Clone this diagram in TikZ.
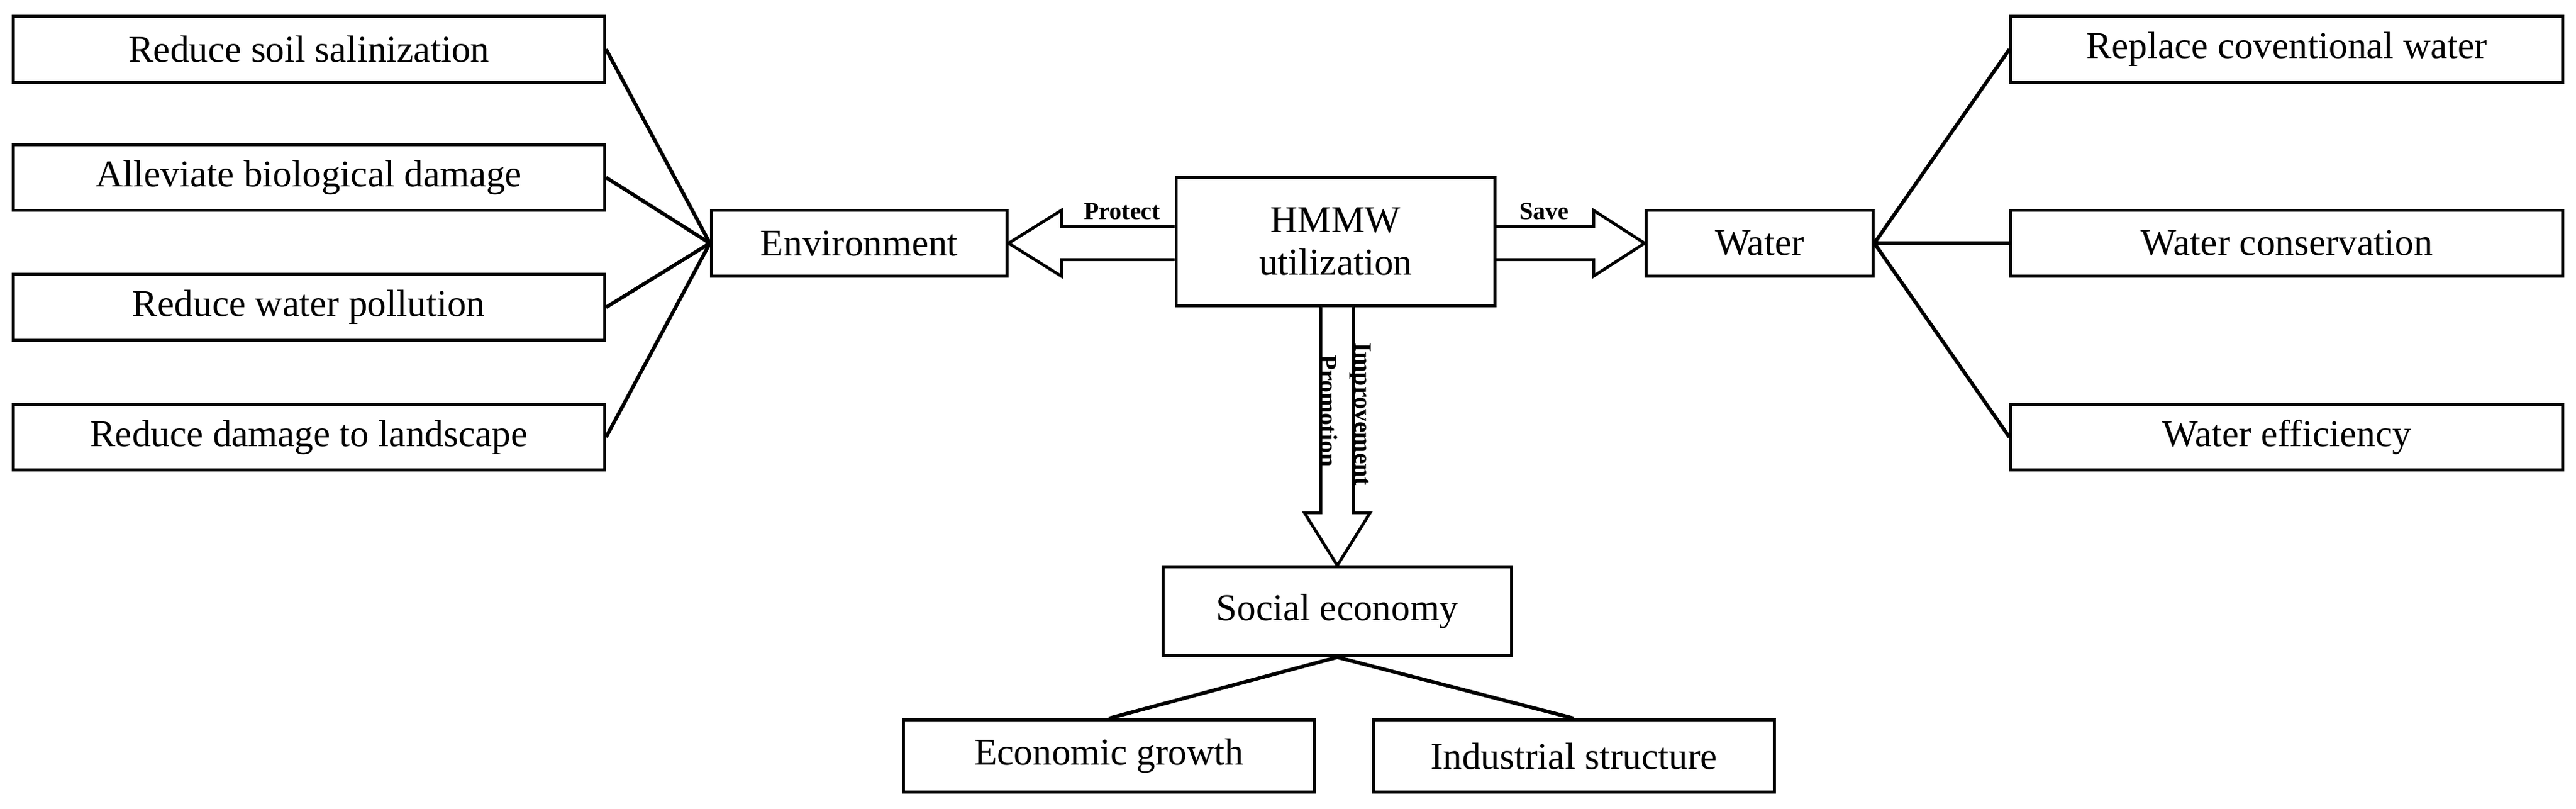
\documentclass[tikz,border=0pt]{standalone}
\usepackage{fontspec}
\setmainfont{Liberation Serif}
\begin{document}
\begin{tikzpicture}[x=0.5pt,y=-0.5pt,
  box/.style={draw,line width=0.9pt,minimum height=20pt,inner sep=0pt,font=\fontsize{11.5}{13}\selectfont},
  ln/.style={line width=1.1pt},
  hol/.style={draw,line width=0.9pt,fill=white},
  lab/.style={font=\bfseries\fontsize{7.5}{9}\selectfont,inner sep=1pt}]
\useasboundingbox (0,0) rectangle (1568,492);
\node[box,minimum width=180pt] (l1) at (188,30) {Reduce soil salinization};
\node[box,minimum width=180pt] (l2) at (188,108) {Alleviate biological damage};
\node[box,minimum width=180pt] (l3) at (188,187) {Reduce water pollution};
\node[box,minimum width=180pt] (l4) at (188,266) {Reduce damage to landscape};
\node[box,minimum width=90pt] (env) at (523,148) {Environment};
\node[box,minimum width=97pt,minimum height=39pt,align=center] (h) at (813,147) {HMMW\\utilization};
\node[box,minimum width=69pt] (w) at (1071,148) {Water};
\node[box,minimum width=168pt] (r1) at (1392,30) {Replace coventional water};
\node[box,minimum width=168pt] (r2) at (1392,148) {Water conservation};
\node[box,minimum width=168pt] (r3) at (1392,266) {Water efficiency};
\node[box,minimum width=106pt,minimum height=27pt] (se) at (814,372) {Social economy};
\node[box,minimum width=125pt,minimum height=22pt] (eg) at (675,460) {Economic growth};
\node[box,minimum width=122pt,minimum height=22pt] (is) at (958,460) {Industrial structure};
\foreach \n in {l1,l2,l3,l4} \draw[ln] (\n.east) -- (env.west);
\foreach \n in {r1,r2,r3} \draw[ln] (w.east) -- (\n.west);
\draw[ln] (se.south) -- (eg.north);
\draw[ln] (se.south) -- (is.north);
% hollow arrows
\draw[hol] (h.west |- 0,138) -- (646,138) -- (646,128) -- (env.east) -- (646,168) -- (646,158) -- (h.west |- 0,158) ;
\draw[hol] (h.east |- 0,138) -- (970,138) -- (970,128) -- (w.west) -- (970,168) -- (970,158) -- (h.east |- 0,158) ;
\draw[hol] (804,0 |- h.south) -- (804,312) -- (794,312) -- (se.north) -- (834,312) -- (824,312) -- (824,0 |- h.south);
\node[lab,anchor=south] at (683,136) {Protect};
\node[lab,anchor=south] at (940,136) {Save};
\node[lab,rotate=-90,anchor=south] at (801,250) {Promotion};
\node[lab,rotate=-90,anchor=north] at (837,252) {Improvement};
\end{tikzpicture}
\end{document}
